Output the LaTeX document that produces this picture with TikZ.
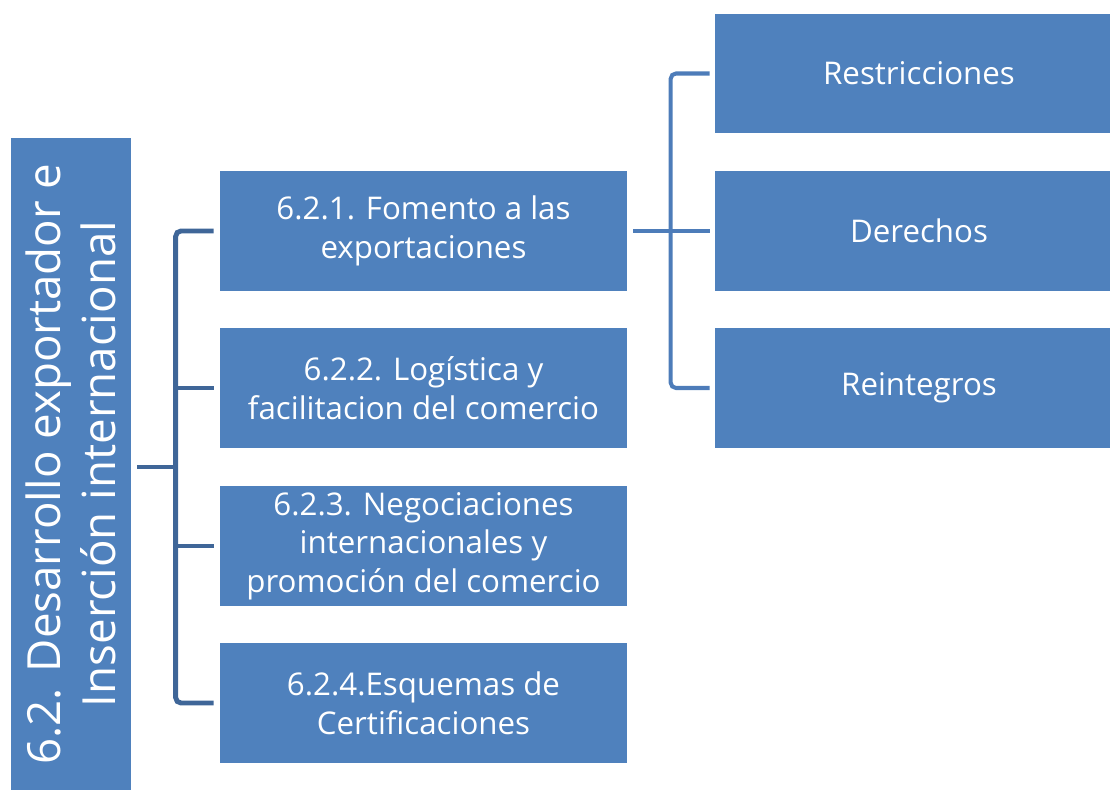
\documentclass[tikz,border=0pt]{standalone}
\usepackage{fontspec}
\setmainfont{Open Sans}
\definecolor{boxblue}{HTML}{4F81BD}
\definecolor{darkline}{HTML}{3F6698}
\definecolor{lightline}{HTML}{4D7CB9}
\begin{document}
\begin{tikzpicture}[
  x=0.02cm, y=-0.02cm,
  subbox/.style={fill=boxblue, text=white, minimum width=8.14cm, minimum height=2.4cm, inner sep=0pt,
    font=\fontsize{17.8}{22}\selectfont, align=center},
  itembox/.style={fill=boxblue, text=white, minimum width=8.16cm, minimum height=2.39cm, inner sep=0pt,
    font=\fontsize{17.8}{22}\selectfont, align=center},
  leftline/.style={draw=darkline, line width=2.8pt, rounded corners=3},
  rightline/.style={draw=lightline, line width=2.3pt, rounded corners=3},
]
  \useasboundingbox (0,0) rectangle (1110,790);

  \node[fill=boxblue, minimum width=2.4cm, minimum height=13.03cm, inner sep=0pt] (main) at (71,464) {};
  \node[text=white, rotate=90, align=center, font=\fontsize{26}{31}\selectfont] (maintext) at (main.center)
    {6.2. Desarrollo exportador e\\Inserción internacional};

  \node[subbox] (s1) at (423.5,231) {6.2.1. Fomento a las\\exportaciones};
  \node[subbox] (s2) at (423.5,388) {6.2.2. Logística y\\facilitacion del comercio};
  \node[subbox] (s3) at (423.5,546) {6.2.3. Negociaciones\\internacionales y\\promoción del comercio};
  \node[subbox] (s4) at (423.5,703) {6.2.4.Esquemas de\\Certificaciones};

  \node[itembox] (r1) at (919,73.5) {Restricciones};
  \node[itembox] (r2) at (919,231) {Derechos};
  \node[itembox] (r3) at (919,388) {Reintegros};

  % left tree
  \coordinate (ltrunk) at ([xshift=-0.88cm]s1.west);
  \coordinate (lmid) at (ltrunk |- 0,467);
  \draw[leftline, shorten >=0.12cm] (lmid) -- (lmid -| main.east);
  \draw[leftline, shorten <=0.12cm, shorten >=0.12cm] (s1.west) -- (ltrunk) |- (s4.west);
  \draw[leftline, shorten >=0.12cm] (ltrunk |- s2.west) -- (s2.west);
  \draw[leftline, shorten >=0.12cm] (ltrunk |- s3.west) -- (s3.west);

  % right tree
  \coordinate (rtrunk) at ([xshift=-0.88cm]r2.west);
  \draw[rightline, shorten <=0.12cm, shorten >=0.1cm] (s1.east) -- (r2.west);
  \draw[rightline, shorten <=0.1cm, shorten >=0.1cm] (r1.west) -- (r1.west -| rtrunk) |- (r3.west);
\end{tikzpicture}
\end{document}
